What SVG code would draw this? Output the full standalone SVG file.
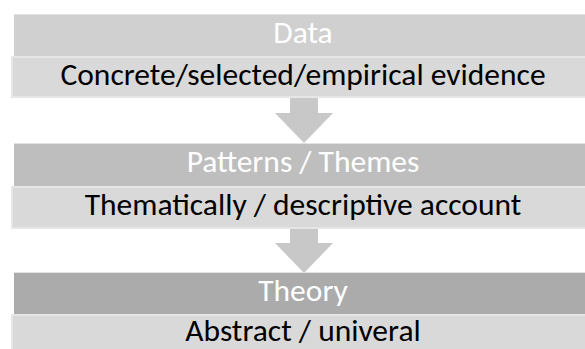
<svg xmlns="http://www.w3.org/2000/svg" width="585" height="349" viewBox="0 0 585 349">
  <style>
    .hdr-text { font-family: Carlito, Calibri, Lato, "Liberation Sans", sans-serif; font-size: 31.5px; fill: #ffffff; text-anchor: middle; }
    .sub-text { font-family: Carlito, Calibri, Lato, "Liberation Sans", sans-serif; font-size: 31.5px; fill: #000000; text-anchor: middle; }
    .sub-box { fill: #d9d9d9; stroke: #e6e6e6; stroke-width: 2; }
    .hdr-edge { stroke: #e2e2e2; stroke-width: 1; }
    .arrow { fill: #c8c8c8; }
  </style>
  <rect width="585" height="349" fill="#ffffff"/>

  <!-- down arrows between stages -->
  <g id="connectors">
    <polygon class="arrow" points="290,97 318,97 318,113 333,113 304,143 275,113 290,113"/>
    <polygon class="arrow" points="290,228 318,228 318,243 333,243 304,273 275,243 290,243"/>
  </g>

  <g id="data">
    <rect x="14" y="14" width="580" height="42" fill="#d0d0d0"/>
    <line class="hdr-edge" x1="14" y1="14.5" x2="594" y2="14.5"/>
    <text class="hdr-text" x="303" y="43">Data</text>
    <rect class="sub-box" x="12" y="57" width="580" height="40"/>
    <text class="sub-text" x="303" y="85">Concrete/selected/empirical evidence</text>
  </g>

  <g id="patterns">
    <rect x="14" y="143" width="580" height="43" fill="#bebebe"/>
    <line class="hdr-edge" x1="14" y1="143.5" x2="594" y2="143.5"/>
    <text class="hdr-text" x="303" y="172">Patterns / Themes</text>
    <rect class="sub-box" x="12" y="187" width="580" height="41"/>
    <text class="sub-text" x="303" y="215">Thematically / descriptive account</text>
  </g>

  <g id="theory">
    <rect x="14" y="272" width="580" height="42" fill="#ababab"/>
    <line class="hdr-edge" x1="14" y1="272.5" x2="594" y2="272.5"/>
    <text class="hdr-text" x="303" y="301">Theory</text>
    <rect class="sub-box" x="12" y="315" width="580" height="40"/>
    <text class="sub-text" x="303" y="341">Abstract / univeral</text>
  </g>
</svg>
